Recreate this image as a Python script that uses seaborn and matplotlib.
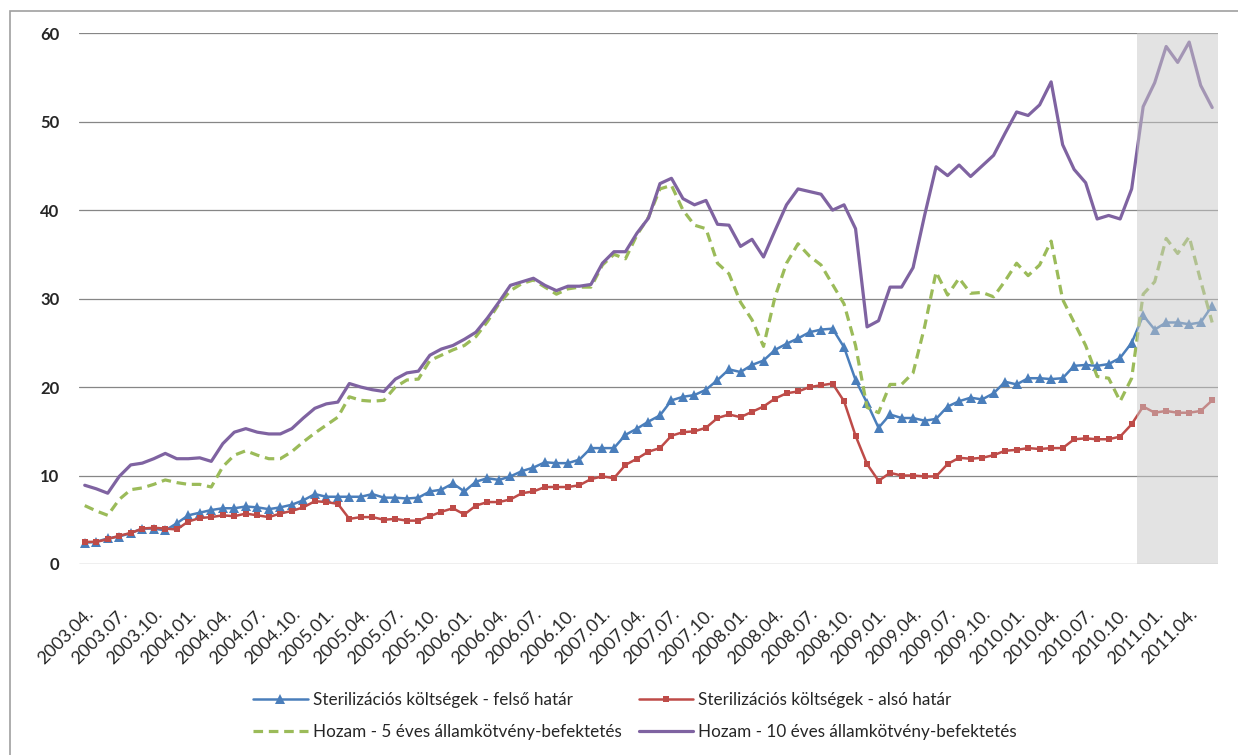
import matplotlib
matplotlib.use("Agg")
import matplotlib.pyplot as plt
import seaborn as sns
import pandas as pd
from matplotlib.patches import Rectangle

# monthly data, 2003.04 - 2011.06
years = [2003] * 9 + [y for y in range(2004, 2011) for _ in range(12)] + [2011] * 6
months = list(range(4, 13)) + list(range(1, 13)) * 7 + list(range(1, 7))
dates = [f"{y}.{m:02d}." for y, m in zip(years, months)]

felso = [2.4, 2.5, 2.9, 3.1, 3.5, 4.0, 4.0, 3.8, 4.6, 5.5, 5.8, 6.1, 6.3, 6.3, 6.5, 6.4, 6.2, 6.4, 6.7, 7.2,
         7.9, 7.6, 7.6, 7.6, 7.6, 7.9, 7.5, 7.5, 7.4, 7.5, 8.2, 8.4, 9.1, 8.2, 9.3, 9.7, 9.5, 9.9, 10.5, 10.9,
         11.5, 11.4, 11.4, 11.8, 13.1, 13.1, 13.1, 14.6, 15.3, 16.1, 16.8, 18.5, 18.9, 19.1, 19.7, 20.8, 22.0, 21.7, 22.5, 23.0,
         24.2, 24.9, 25.5, 26.2, 26.5, 26.6, 24.5, 20.8, 18.2, 15.4, 16.9, 16.5, 16.5, 16.2, 16.4, 17.8, 18.4, 18.8, 18.6, 19.3,
         20.6, 20.3, 21.0, 21.0, 20.9, 21.0, 22.4, 22.5, 22.4, 22.6, 23.3, 25.0, 28.1, 26.5, 27.3, 27.3, 27.1, 27.3, 29.2]

also = [2.5, 2.5, 2.8, 3.2, 3.5, 4.0, 4.1, 4.0, 3.9, 4.8, 5.2, 5.3, 5.5, 5.4, 5.7, 5.5, 5.3, 5.7, 6.0, 6.4,
        7.1, 7.0, 6.8, 5.1, 5.3, 5.3, 5.0, 5.1, 4.9, 4.9, 5.4, 5.9, 6.3, 5.6, 6.6, 7.0, 7.0, 7.3, 8.0, 8.2,
        8.7, 8.7, 8.7, 8.9, 9.6, 9.9, 9.7, 11.2, 11.9, 12.7, 13.1, 14.5, 14.9, 15.0, 15.4, 16.5, 16.9, 16.6, 17.2, 17.8,
        18.7, 19.3, 19.5, 20.0, 20.2, 20.4, 18.4, 14.5, 11.3, 9.4, 10.3, 10.0, 10.0, 9.9, 9.9, 11.3, 12.0, 11.9, 12.0, 12.3,
        12.8, 12.9, 13.1, 13.0, 13.1, 13.1, 14.1, 14.2, 14.1, 14.1, 14.4, 15.8, 17.8, 17.1, 17.3, 17.1, 17.1, 17.3, 18.5]

hozam5 = [6.6, 6.0, 5.5, 7.3, 8.4, 8.6, 9.0, 9.5, 9.2, 9.0, 9.0, 8.7, 11.0, 12.3, 12.8, 12.3, 11.9, 11.9, 12.7, 13.8,
          14.8, 15.7, 16.6, 18.9, 18.5, 18.4, 18.5, 20.0, 20.8, 20.9, 23.0, 23.6, 24.2, 24.7, 25.7, 27.4, 29.4, 30.9, 31.7, 32.1,
          31.3, 30.5, 31.1, 31.3, 31.3, 33.8, 35.0, 34.5, 37.2, 39.2, 42.4, 42.8, 40.0, 38.3, 37.9, 34.0, 32.8, 29.6, 27.6, 24.6,
          30.2, 34.0, 36.2, 34.8, 33.8, 31.6, 29.4, 24.7, 17.7, 17.1, 20.3, 20.3, 21.6, 26.8, 33.0, 30.4, 32.3, 30.6, 30.7, 30.2,
          32.0, 34.0, 32.6, 33.8, 36.5, 29.9, 27.3, 24.7, 21.2, 21.0, 18.4, 21.0, 30.5, 31.9, 36.8, 35.1, 37.0, 32.0, 27.3]

hozam10 = [8.9, 8.5, 8.0, 9.9, 11.2, 11.4, 11.9, 12.5, 11.9, 11.9, 12.0, 11.6, 13.6, 14.9, 15.3, 14.9, 14.7, 14.7, 15.3, 16.5,
           17.6, 18.1, 18.3, 20.4, 20.0, 19.7, 19.5, 20.9, 21.6, 21.8, 23.6, 24.3, 24.7, 25.4, 26.2, 27.8, 29.6, 31.5, 31.9, 32.3,
           31.5, 30.9, 31.4, 31.4, 31.6, 34.0, 35.3, 35.3, 37.4, 39.1, 43.0, 43.6, 41.3, 40.6, 41.1, 38.4, 38.3, 35.9, 36.7, 34.7,
           37.7, 40.6, 42.4, 42.1, 41.8, 40.0, 40.6, 37.9, 26.8, 27.5, 31.3, 31.3, 33.5, 39.4, 44.9, 43.9, 45.1, 43.8, 45.0, 46.2,
           48.7, 51.1, 50.7, 51.9, 54.5, 47.4, 44.6, 43.1, 39.0, 39.4, 39.0, 42.4, 51.7, 54.4, 58.5, 56.7, 59.0, 54.1, 51.6]

labels = ["Sterilizációs költségek - felső határ", "Sterilizációs költségek - alsó határ",
          "Hozam - 5 éves államkötvény-befektetés", "Hozam - 10 éves államkötvény-befektetés"]

df = pd.DataFrame({"t": range(len(dates)), "felso": felso, "also": also,
                   "h5": hozam5, "h10": hozam10})

sns.set_style("white")
plt.rcParams["font.family"] = ["Lato", "DejaVu Sans"]

fig = plt.figure(figsize=(12.38, 7.55), dpi=100)
ax = fig.add_axes([0.0638, 0.253, 0.920, 0.703])

sns.lineplot(data=df, x="t", y="felso", ax=ax, color="#4A7EBB", lw=1.8, marker="^",
             markersize=7.5, markeredgewidth=0, label=labels[0])
sns.lineplot(data=df, x="t", y="h5", ax=ax, color="#9BBB59", lw=2.3, dashes=False,
             label=labels[2]).lines[-1].set_dashes((3, 1.8))
sns.lineplot(data=df, x="t", y="also", ax=ax, color="#BE4B48", lw=1.8, marker="s",
             markersize=5, markeredgewidth=0, label=labels[1])
sns.lineplot(data=df, x="t", y="h10", ax=ax, color="#7F63A1", lw=2.3, label=labels[3])

# shaded forecast period
ax.axvspan(91.5, 98.6, color="#c8c8c8", alpha=0.5, lw=0, zorder=5)

ax.set_xlim(-0.5, 98.5)
ax.set_ylim(0, 60)
ax.set_yticks(range(0, 61, 10))
ax.yaxis.grid(True, color="#868686", lw=0.9)
ax.set_axisbelow(True)
for s in ax.spines.values():
    s.set_visible(False)
ax.set_xlabel("")
ax.set_ylabel("")

ax.set_xticks(range(0, len(dates), 3))
ax.set_xticklabels(dates[::3], rotation=45, ha="right", rotation_mode="anchor", fontsize=13)
ax.tick_params(axis="x", length=0, pad=30)
ax.tick_params(axis="y", length=0, pad=14, labelsize=12)
for t in ax.get_yticklabels():
    t.set_fontweight("bold")

h, l = ax.get_legend_handles_labels()
ax.legend(h, l, ncol=2, loc="center", bbox_to_anchor=(0.513, 0.052), bbox_transform=fig.transFigure,
          frameon=False, fontsize=12.3, handlelength=3.2, handletextpad=0.3, columnspacing=1.0,
          labelspacing=0.95)

fig.patches.append(Rectangle((10 / 1238, -0.1), 1.2, 0.1 + 1 - 11 / 755, transform=fig.transFigure,
                             fill=False, edgecolor="#a0a0a0", lw=1.2))

fig.savefig("out.png", dpi=100)
